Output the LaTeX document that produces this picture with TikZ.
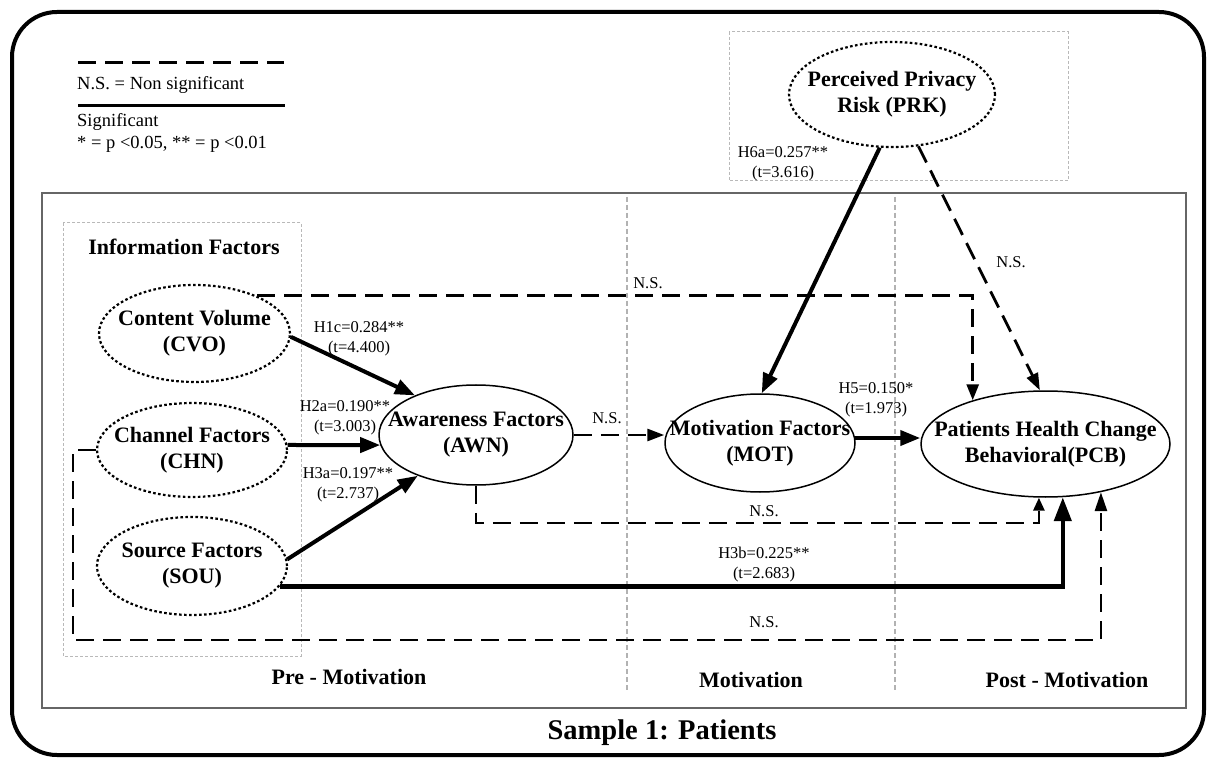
\documentclass[tikz,border=0pt]{standalone}
\usepackage{fontspec}
\setmainfont{Liberation Serif}
\usetikzlibrary{arrows.meta,shapes.geometric}
\begin{document}
\begin{tikzpicture}[x=1pt,y=-1pt,
  latent/.style={ellipse, draw, line width=2.2pt, dash pattern=on 2.6pt off 2.4pt, minimum width=191pt, minimum height=97pt, inner sep=0pt},
  construct/.style={ellipse, draw, line width=1.5pt, inner sep=0pt},
  ntext/.style={font=\fontsize{22}{26}\selectfont\bfseries, align=center, inner sep=0pt},
  lab/.style={font=\fontsize{16.5}{20}\selectfont, align=center, inner sep=0pt},
  legtext/.style={font=\fontsize{18.5}{22}\selectfont, anchor=base west, inner sep=0pt},
  sig/.style={line width=4pt, -{Triangle[length=20pt,width=15pt]}},
  ns/.style={line width=2.8pt, dash pattern=on 18pt off 9pt, -{Triangle[length=17pt,width=12pt]}},
  boxdot/.style={draw=gray!55, line width=1pt, dash pattern=on 3pt off 2pt},
  divider/.style={draw=gray!60, line width=1.3pt, dash pattern=on 5pt off 3pt}
]
\useasboundingbox (0,0) rectangle (1208,759);
\fill[white] (0,0) rectangle (1208,759);

% outer frame
\draw[line width=4pt, rounded corners=45pt] (12,12) rectangle (1204,755);
% inner frame
\draw[draw=gray!80!black, line width=2.5pt] (42,193) rectangle (1186,708);
% information factors box and PRK box
\draw[boxdot] (63,223) rectangle (301,656);
\draw[boxdot] (729,32) rectangle (1068,181);
% dividers
\draw[divider] (627,197) -- (627,690);
\draw[divider] (895,197) -- (895,690);

% legend
\draw[line width=3pt, dash pattern=on 18pt off 9pt] (78,63) -- (284,63);
\node[legtext] (leg1) at (77,90) {N.S. = Non significant};
\draw[line width=3pt] (78,106) -- (285,106);
\node[legtext] (leg2) at (77,127) {Significant};
\node[legtext] (leg3) at (77,149) {* = p <0.05, ** = p <0.01};

% headings
\node[ntext] (info) at (184,247) {Information Factors};
\node[ntext] (pre) at (349,677) {Pre - Motivation};
\node[ntext] (motl) at (751,680) {Motivation};
\node[ntext] (post) at (1067,680) {Post - Motivation};
\node[font=\fontsize{28.5}{32}\selectfont\bfseries, inner sep=0pt] (title) at (662,733) {Sample 1: Patients};

% constructs
\node[latent] (cvo) at (194.5,333.5) {};
\node[ntext] (cvot) at (cvo) {Content Volume\\(CVO)};
\node[latent, minimum width=190pt, minimum height=94pt] (chn) at (192,450) {};
\node[ntext] (chnt) at (chn) {Channel Factors\\(CHN)};
\node[latent, minimum width=190pt, minimum height=98pt] (sou) at (192,566) {};
\node[ntext] (sout) at (sou) {Source Factors\\(SOU)};
\node[latent, minimum width=206pt, minimum height=105pt] (prk) at (892,94.5) {};
\node[ntext] (prkt) at (prk) {Perceived Privacy\\Risk (PRK)};
\node[construct, minimum width=194pt, minimum height=100pt] (awn) at (476,435) {};
\node[ntext] (awnt) at (awn) {Awareness Factors\\(AWN)};
\node[construct, minimum width=190pt, minimum height=98pt] (mot) at (760,443) {};
\node[ntext] (mott) at (mot) {Motivation Factors\\(MOT)};
\node[construct, minimum width=249pt, minimum height=106pt] (pcb) at (1045.5,444) {};
\node[ntext] (pcbt) at (pcb) {Patients Health Change\\Behavioral(PCB)};

% helper coordinates
\coordinate (lowA) at (0,523);
\coordinate (lowC) at (73,640);

% significant paths
\draw[sig] (cvo.358) -- (awn.147);
\draw[sig] (chn.3) -- (awn.186.6);
\draw[sig] (sou.4) -- (awn.215);
\draw[sig] (prk.257) -- (mot.88);
\draw[sig] (mot.3) -- (mot.3 -| pcb.west);
\draw[line width=4.5pt, -{Triangle[length=24pt,width=17pt]}] (sou.347) -| (pcb.288.4);

% non-significant paths
\draw[ns] (awn.east) -- (awn.east -| mot.west);
\draw[ns] (prk.297) -- (pcb.96);
\draw[ns, -{Triangle[length=16pt,width=12pt]}] (cvo.31) -| (pcb.149.3);
\draw[ns, -{Triangle[length=13pt,width=11pt]}] (awn.south) -- (awn.south |- lowA) -| (pcb.263);
\draw[ns, -{Triangle[length=19pt,width=12pt]}] (chn.west) -| (lowC) -| (pcb.319.5);

% labels
\node[lab] (l1) at (359,338.5) {H1c=0.284**\\(t=4.400)};
\node[lab] (l2) at (345,418) {H2a=0.190**\\(t=3.003)};
\node[lab] (l3) at (348,484.5) {H3a=0.197**\\(t=2.737)};
\node[lab] (l4) at (783,164) {H6a=0.257**\\(t=3.616)};
\node[lab] (l5) at (876,399.5) {H5=0.150*\\(t=1.973)};
\node[lab] (l6) at (764,564.5) {H3b=0.225**\\(t=2.683)};
\node[lab] (n1) at (607,418) {N.S.};
\node[lab] (n2) at (1011,262) {N.S.};
\node[lab] (n3) at (648,283) {N.S.};
\node[lab] (n4) at (764,511) {N.S.};
\node[lab] (n5) at (764,622) {N.S.};
\end{tikzpicture}
\end{document}
